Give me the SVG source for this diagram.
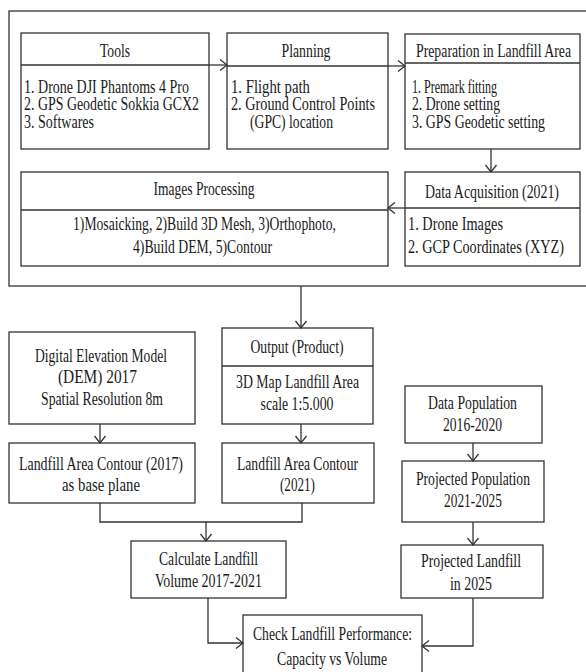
<svg xmlns="http://www.w3.org/2000/svg" width="586" height="672" viewBox="0 0 586 672">
<style>
.box{fill:#fff;stroke:#333;stroke-width:1.3}
.div{stroke:#333;stroke-width:1.3}
.c{fill:none;stroke:#333;stroke-width:1.3}
.t{font-family:'Liberation Serif','Times New Roman',serif;font-size:18px;fill:#1a1a1a}
.m{text-anchor:middle}
</style>
<defs>
<marker id="ah" markerUnits="userSpaceOnUse" markerWidth="12" markerHeight="14" viewBox="-9 -7 10 14" refX="0" refY="0" orient="auto">
<path d="M-7,-5.5 L0,0 L-7,5.5" fill="none" stroke="#333" stroke-width="1.3"/>
</marker>
</defs>
<rect width="586" height="672" fill="#fff"/>
<rect id="outer" x="9" y="11" width="580" height="275" fill="none" stroke="#333" stroke-width="1.3"/>
<g class="t">

<g id="tools">
<rect class="box" x="21" y="33" width="188" height="116"/>
<line class="div" x1="21" y1="65" x2="209" y2="65"/>
<text class="m" x="115" y="57" textLength="30" lengthAdjust="spacingAndGlyphs">Tools</text>
<text x="24" y="93" textLength="165" lengthAdjust="spacingAndGlyphs">1. Drone DJI Phantoms 4 Pro</text>
<text x="24" y="110" textLength="175" lengthAdjust="spacingAndGlyphs">2. GPS Geodetic Sokkia GCX2</text>
<text x="24" y="128" textLength="70" lengthAdjust="spacingAndGlyphs">3. Softwares</text>
</g>

<g id="planning">
<rect class="box" x="227" y="33" width="161" height="116"/>
<line class="div" x1="227" y1="66" x2="388" y2="66"/>
<text class="m" x="306" y="57" textLength="49" lengthAdjust="spacingAndGlyphs">Planning</text>
<text x="231" y="93" textLength="79" lengthAdjust="spacingAndGlyphs">1. Flight path</text>
<text x="231" y="110" textLength="144" lengthAdjust="spacingAndGlyphs">2. Ground Control Points</text>
<text x="250" y="128" textLength="83" lengthAdjust="spacingAndGlyphs">(GPC) location</text>
</g>

<g id="preparation">
<rect class="box" x="405" y="34" width="175" height="115"/>
<line class="div" x1="405" y1="63" x2="580" y2="63"/>
<text x="416" y="57" textLength="155" lengthAdjust="spacingAndGlyphs">Preparation in Landfill Area</text>
<text x="412" y="93" textLength="85" lengthAdjust="spacingAndGlyphs">1. Premark fitting</text>
<text x="412" y="110" textLength="88" lengthAdjust="spacingAndGlyphs">2. Drone setting</text>
<text x="412" y="128" textLength="133" lengthAdjust="spacingAndGlyphs">3. GPS Geodetic setting</text>
</g>

<g id="images-processing">
<rect class="box" x="21" y="172" width="367" height="94"/>
<line class="div" x1="21" y1="210" x2="388" y2="210"/>
<text class="m" x="204" y="195" textLength="101" lengthAdjust="spacingAndGlyphs">Images Processing</text>
<text class="m" x="204.5" y="230" textLength="263" lengthAdjust="spacingAndGlyphs">1)Mosaicking,  2)Build 3D Mesh, 3)Orthophoto,</text>
<text class="m" x="202.5" y="253" textLength="139" lengthAdjust="spacingAndGlyphs">4)Build DEM, 5)Contour</text>
</g>

<g id="data-acquisition">
<rect class="box" x="405" y="172" width="175" height="94"/>
<line class="div" x1="405" y1="208" x2="580" y2="208"/>
<text class="m" x="492" y="198" textLength="134" lengthAdjust="spacingAndGlyphs">Data Acquisition (2021)</text>
<text x="408" y="230" textLength="95" lengthAdjust="spacingAndGlyphs">1. Drone Images</text>
<text x="408" y="253" textLength="156" lengthAdjust="spacingAndGlyphs">2. GCP Coordinates (XYZ)</text>
</g>

<g id="dem">
<rect class="box" x="9" y="332" width="186" height="92"/>
<text class="m" x="101" y="362" textLength="132" lengthAdjust="spacingAndGlyphs">Digital Elevation Model</text>
<text class="m" x="97.5" y="383" textLength="79" lengthAdjust="spacingAndGlyphs">(DEM) 2017</text>
<text class="m" x="102" y="405" textLength="122" lengthAdjust="spacingAndGlyphs">Spatial Resolution  8m</text>
</g>

<g id="output">
<rect class="box" x="222" y="328" width="151" height="96"/>
<line class="div" x1="222" y1="366" x2="373" y2="366"/>
<text class="m" x="297" y="353" textLength="93" lengthAdjust="spacingAndGlyphs">Output (Product)</text>
<text class="m" x="297.5" y="388" textLength="123" lengthAdjust="spacingAndGlyphs">3D Map Landfill Area</text>
<text class="m" x="297" y="410" textLength="73" lengthAdjust="spacingAndGlyphs">scale 1:5.000</text>
</g>

<g id="contour-2017">
<rect class="box" x="9" y="443" width="186" height="60"/>
<text class="m" x="101" y="470" textLength="164" lengthAdjust="spacingAndGlyphs">Landfill Area Contour (2017)</text>
<text class="m" x="101" y="491" textLength="78" lengthAdjust="spacingAndGlyphs">as base plane</text>
</g>

<g id="contour-2021">
<rect class="box" x="222" y="443" width="152" height="60"/>
<text class="m" x="297.5" y="470" textLength="121" lengthAdjust="spacingAndGlyphs">Landfill Area Contour</text>
<text class="m" x="297.5" y="491" textLength="35" lengthAdjust="spacingAndGlyphs">(2021)</text>
</g>

<g id="calculate">
<rect class="box" x="131" y="541" width="155" height="57"/>
<text class="m" x="208.5" y="565" textLength="99" lengthAdjust="spacingAndGlyphs">Calculate Landfill</text>
<text class="m" x="208.5" y="587" textLength="107" lengthAdjust="spacingAndGlyphs">Volume 2017-2021</text>
</g>

<g id="data-population">
<rect class="box" x="405" y="386" width="137" height="57"/>
<text class="m" x="472.5" y="409" textLength="89" lengthAdjust="spacingAndGlyphs">Data Population</text>
<text class="m" x="472.5" y="431" textLength="59" lengthAdjust="spacingAndGlyphs">2016-2020</text>
</g>

<g id="projected-population">
<rect class="box" x="402" y="461" width="142" height="61"/>
<text class="m" x="473" y="485" textLength="114" lengthAdjust="spacingAndGlyphs">Projected Population</text>
<text class="m" x="473" y="507" textLength="58" lengthAdjust="spacingAndGlyphs">2021-2025</text>
</g>

<g id="projected-landfill">
<rect class="box" x="401" y="545" width="142" height="53"/>
<text class="m" x="471" y="567" textLength="100" lengthAdjust="spacingAndGlyphs">Projected Landfill</text>
<text class="m" x="471" y="590" textLength="42" lengthAdjust="spacingAndGlyphs">in 2025</text>
</g>

<g id="check">
<rect class="box" x="243" y="615" width="179" height="70"/>
<text class="m" x="332.5" y="640" textLength="159" lengthAdjust="spacingAndGlyphs">Check Landfill Performance:</text>
<text class="m" x="332" y="665" textLength="110" lengthAdjust="spacingAndGlyphs">Capacity  vs Volume</text>
</g>
</g>

<g id="connectors">
<line class="c" x1="209" y1="65" x2="227" y2="65" marker-end="url(#ah)"/>
<line class="c" x1="388" y1="66" x2="405" y2="66" marker-end="url(#ah)"/>
<line class="c" x1="491" y1="149" x2="491" y2="172" marker-end="url(#ah)"/>
<line class="c" x1="405" y1="208" x2="388" y2="208" marker-end="url(#ah)"/>
<line class="c" x1="301" y1="286" x2="301" y2="328" marker-end="url(#ah)"/>
<line class="c" x1="100" y1="424" x2="100" y2="443" marker-end="url(#ah)"/>
<line class="c" x1="301" y1="424" x2="301" y2="443" marker-end="url(#ah)"/>
<polyline class="c" points="100,503 100,522 302,522 302,503"/>
<line class="c" x1="206" y1="522" x2="206" y2="541" marker-end="url(#ah)"/>
<polyline class="c" points="208,598 208,643 243,643" marker-end="url(#ah)"/>
<line class="c" x1="473" y1="443" x2="473" y2="461" marker-end="url(#ah)"/>
<line class="c" x1="473" y1="522" x2="473" y2="545" marker-end="url(#ah)"/>
<polyline class="c" points="473,598 473,646 422,646" marker-end="url(#ah)"/>
</g>
</svg>
